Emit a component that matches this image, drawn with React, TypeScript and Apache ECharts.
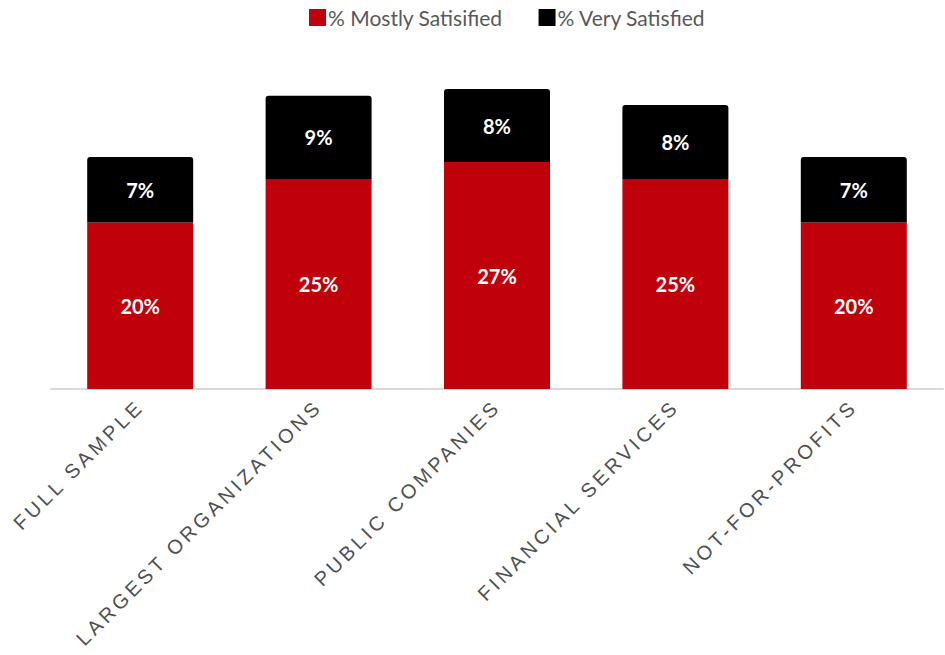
import React, { useEffect, useRef } from "react";
import * as echarts from "echarts";

const categories = [
  "FULL SAMPLE",
  "LARGEST ORGANIZATIONS",
  "PUBLIC COMPANIES",
  "FINANCIAL SERVICES",
  "NOT-FOR-PROFITS",
];
const mostlySatisfied = [19.6, 24.7, 26.7, 24.7, 19.6];
const verySatisfied = [7.7, 9.8, 8.6, 8.7, 7.7];
const mostlyLabels = ["20%", "25%", "27%", "25%", "20%"];
const veryLabels = ["7%", "9%", "8%", "8%", "7%"];
const seriesNames = ["% Mostly Satisified", "% Very Satisfied"];

export default function App() {
  const ref = useRef<HTMLDivElement>(null);
  useEffect(() => {
    if (!ref.current) return;
    const chart = echarts.init(ref.current, null, { renderer: "svg" });
    const labelStyle = {
      show: true,
      position: "inside",
      color: "#ffffff",
      fontFamily: "Lato",
      fontWeight: 700,
      fontSize: 20,
    };
    chart.setOption({
      animation: false,
      legend: {
        top: 2,
        left: 304,
        itemWidth: 17,
        itemHeight: 17,
        itemGap: 36,
        icon: "rect",
        textStyle: {
          fontFamily: "Lato",
          fontSize: 21,
          color: "#595959",
          padding: [0, 0, 0, -3],
        },
        data: seriesNames,
      },
      grid: { left: 51, right: 2, top: 49, bottom: 266, containLabel: false },
      xAxis: {
        type: "category",
        data: categories,
        axisLine: { show: true, lineStyle: { color: "#d9d9d9", width: 2 } },
        axisTick: { show: false },
        axisLabel: {
          rotate: 45,
          interval: 0,
          margin: 14,
          fontFamily: "Liberation Sans",
          fontSize: 20,
          color: "#505050",
        },
      },
      yAxis: {
        type: "value",
        min: 0,
        max: 40,
        show: false,
        splitLine: { show: false },
      },
      series: [
        {
          name: seriesNames[0],
          type: "bar",
          stack: "total",
          barWidth: 106,
          data: mostlySatisfied,
          itemStyle: { color: "#c0000b" },
          label: {
            ...labelStyle,
            formatter: (p: any) => mostlyLabels[p.dataIndex],
          },
        },
        {
          name: seriesNames[1],
          type: "bar",
          stack: "total",
          barWidth: 106,
          data: verySatisfied,
          itemStyle: { color: "#000000", borderRadius: [3, 3, 0, 0] },
          label: {
            ...labelStyle,
            formatter: (p: any) => veryLabels[p.dataIndex],
          },
        },
      ],
    });
    const applySpacing = () => {
      if (!ref.current) return;
      ref.current.querySelectorAll("text").forEach((t) => {
        if (categories.includes((t.textContent || "").trim())) {
          (t as SVGTextElement).style.letterSpacing = "3.6px";
        }
      });
    };
    applySpacing();
    chart.on("finished", applySpacing);
    const timer = setTimeout(applySpacing, 50);
    return () => {
      clearTimeout(timer);
      chart.dispose();
    };
  }, []);
  return (
    <div
      ref={ref}
      style={{ position: "absolute", left: 0, top: 0, width: 945, height: 655 }}
    />
  );
}
